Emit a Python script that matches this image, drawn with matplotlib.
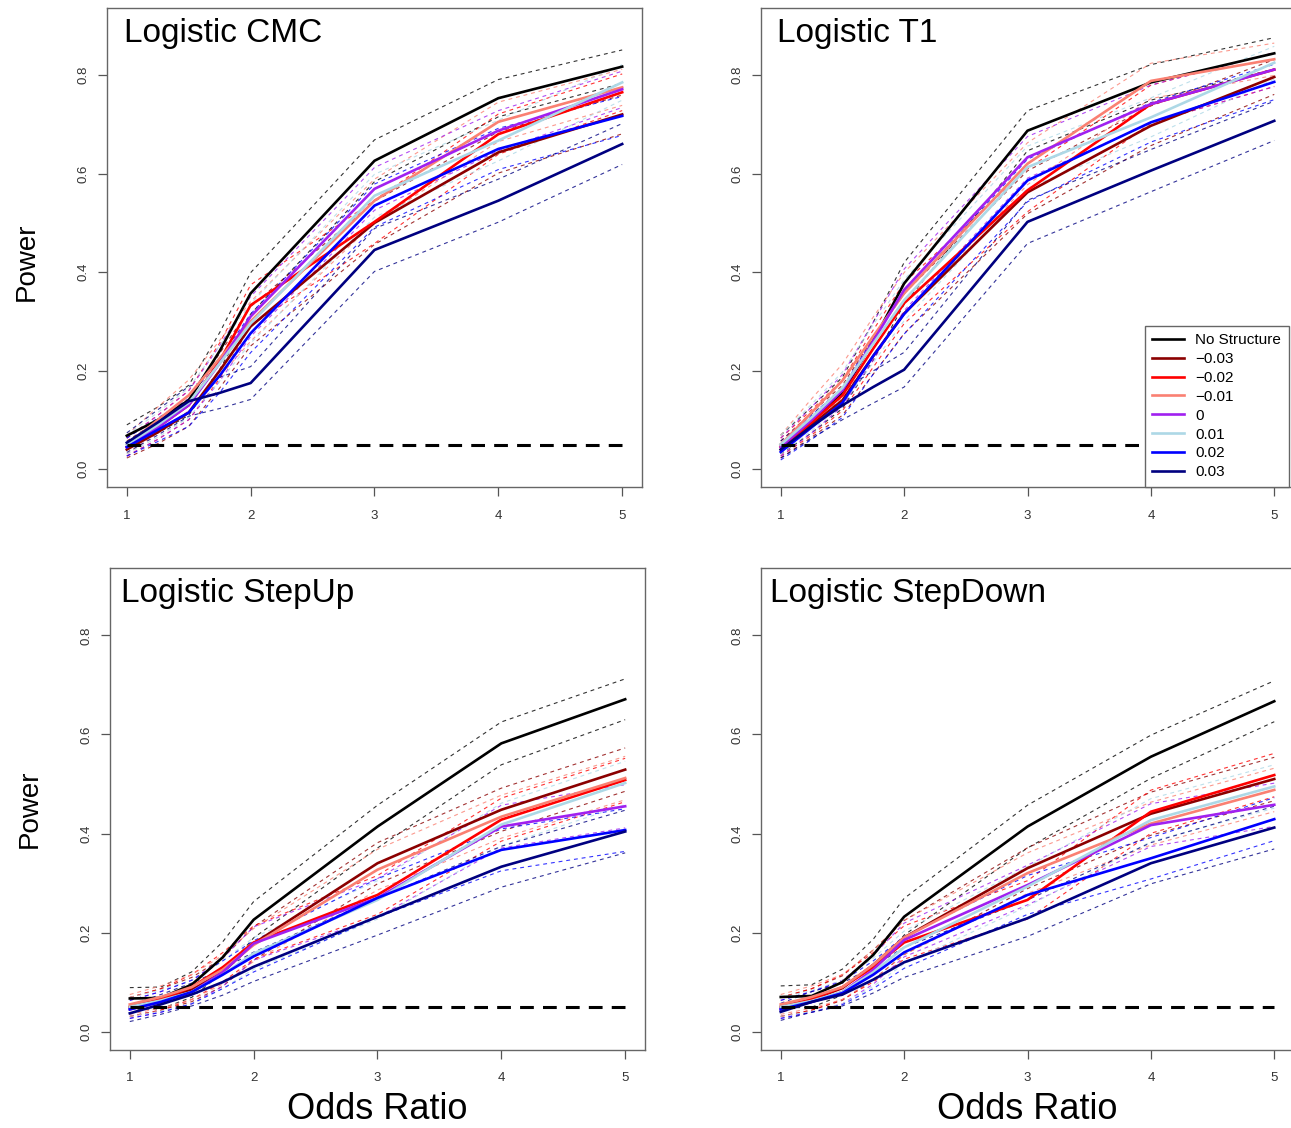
import matplotlib
matplotlib.use("Agg")
import numpy as np
import matplotlib.pyplot as plt

# odds ratios simulated and the structure settings
odds_ratio = [1, 1.25, 1.5, 1.75, 2, 3, 4, 5]
labels = ["No Structure", "\u22120.03", "\u22120.02", "\u22120.01", "0", "0.01", "0.02", "0.03"]
colors = ["black", "#8B0000", "#FF0000", "#FA8072", "#A020F0", "#ADD8E6", "#0000FF", "#000080"]
n_sims = 500
alpha_level = 0.05

# power, one row per structure setting (same order as labels)
cmc_power = [
    [0.068, 0.10, 0.14, 0.24, 0.357, 0.626, 0.753, 0.817],
    [0.040, 0.075, 0.115, 0.20, 0.290, 0.500, 0.643, 0.720],
    [0.045, 0.085, 0.130, 0.22, 0.333, 0.502, 0.680, 0.765],
    [0.050, 0.100, 0.150, 0.225, 0.300, 0.545, 0.705, 0.775],
    [0.045, 0.085, 0.130, 0.215, 0.310, 0.569, 0.687, 0.771],
    [0.050, 0.090, 0.135, 0.215, 0.296, 0.555, 0.667, 0.785],
    [0.045, 0.080, 0.115, 0.190, 0.276, 0.535, 0.650, 0.717],
    [0.054, 0.095, 0.138, 0.155, 0.175, 0.445, 0.545, 0.660],
]
t1_power = [
    [0.050, 0.100, 0.155, 0.260, 0.377, 0.687, 0.785, 0.844],
    [0.040, 0.090, 0.140, 0.230, 0.316, 0.562, 0.697, 0.796],
    [0.045, 0.095, 0.150, 0.245, 0.337, 0.566, 0.741, 0.811],
    [0.050, 0.115, 0.180, 0.270, 0.357, 0.620, 0.788, 0.832],
    [0.045, 0.100, 0.160, 0.260, 0.364, 0.633, 0.741, 0.811],
    [0.050, 0.105, 0.165, 0.255, 0.343, 0.613, 0.714, 0.825],
    [0.035, 0.085, 0.135, 0.230, 0.315, 0.586, 0.704, 0.786],
    [0.040, 0.087, 0.130, 0.167, 0.202, 0.502, 0.606, 0.707],
]
stepup_power = [
    [0.067, 0.068, 0.095, 0.150, 0.226, 0.414, 0.582, 0.671],
    [0.050, 0.065, 0.085, 0.120, 0.178, 0.340, 0.448, 0.529],
    [0.050, 0.065, 0.090, 0.130, 0.180, 0.276, 0.428, 0.508],
    [0.055, 0.070, 0.090, 0.125, 0.175, 0.327, 0.434, 0.512],
    [0.045, 0.060, 0.080, 0.120, 0.178, 0.270, 0.414, 0.455],
    [0.050, 0.063, 0.080, 0.115, 0.158, 0.266, 0.418, 0.502],
    [0.045, 0.060, 0.080, 0.115, 0.152, 0.270, 0.367, 0.407],
    [0.037, 0.055, 0.075, 0.100, 0.131, 0.232, 0.333, 0.404],
]
stepdown_power = [
    [0.070, 0.072, 0.100, 0.155, 0.232, 0.414, 0.555, 0.667],
    [0.050, 0.065, 0.088, 0.135, 0.190, 0.330, 0.440, 0.510],
    [0.050, 0.065, 0.090, 0.130, 0.180, 0.266, 0.444, 0.518],
    [0.055, 0.070, 0.090, 0.135, 0.190, 0.320, 0.420, 0.488],
    [0.045, 0.060, 0.080, 0.125, 0.185, 0.296, 0.417, 0.458],
    [0.050, 0.062, 0.080, 0.120, 0.170, 0.293, 0.427, 0.495],
    [0.045, 0.060, 0.078, 0.115, 0.160, 0.276, 0.350, 0.429],
    [0.040, 0.060, 0.075, 0.105, 0.140, 0.229, 0.340, 0.412],
]

panels = [
    ("Logistic CMC", cmc_power),
    ("Logistic T1", t1_power),
    ("Logistic StepUp", stepup_power),
    ("Logistic StepDown", stepdown_power),
]

plt.rcParams["font.family"] = ["Liberation Sans", "DejaVu Sans"]

W, H = 1291, 1128
fig = plt.figure(figsize=(W / 100, H / 100), dpi=100)

# pixel boxes: left, top, right, bottom
boxes = [(107, 8, 642, 487), (761, 8, 1294, 487),
         (110, 568, 645, 1049.5), (761, 568, 1294, 1049.5)]
title_dx = [17, 16, 11, 9]

for i, (title, power) in enumerate(panels):
    l, t, r, b = boxes[i]
    ax = fig.add_axes([l / W, 1 - b / H, (r - l) / W, (b - t) / H])
    for k in range(len(labels)):
        p = np.array(power[k])
        half = 1.96 * np.sqrt(p * (1 - p) / n_sims)
        ax.plot(odds_ratio, p, color=colors[k], lw=1.9, label=labels[k], zorder=3)
        for bound in (p - half, p + half):
            ax.plot(odds_ratio, bound, color=colors[k], lw=0.8, dashes=(3.5, 3.5),
                    alpha=0.8, zorder=2)
    ax.plot([odds_ratio[0], odds_ratio[-1]], [alpha_level, alpha_level], color="black",
            lw=2.2, dashes=(4.5, 3), zorder=4)

    ax.set_xlim(0.84, 5.16)
    ax.set_ylim(-0.036, 0.936)
    ax.set_xticks([1, 2, 3, 4, 5])
    ax.set_yticks([0.0, 0.2, 0.4, 0.6, 0.8])
    ax.set_yticklabels(["0.0", "0.2", "0.4", "0.6", "0.8"], rotation=90, va="center")
    ax.tick_params(direction="out", length=6.5, width=0.9, color="#555555",
                   labelsize=9.5, labelcolor="#333333")
    ax.tick_params(axis="x", pad=10)
    ax.tick_params(axis="y", pad=6)
    for s in ax.spines.values():
        s.set_color("#666666")
        s.set_linewidth(1)

    ax.text(title_dx[i] / (r - l), 1 - 33.7 / (b - t), title, transform=ax.transAxes,
            fontsize=24, va="baseline", ha="left")

    if i % 2 == 0:
        ax.text(-80 / (r - l), 0.47 if i == 0 else 0.5, "Power", transform=ax.transAxes,
                rotation=90, ha="center", va="center", fontsize=20)
    if i >= 2:
        ax.text(0.5, -60 / (b - t), "Odds Ratio", transform=ax.transAxes,
                ha="center", va="center", fontsize=26)

    if i == 1:
        leg = ax.legend(loc="lower right", bbox_to_anchor=(0.9906, 0), borderaxespad=0,
                        fontsize=11, handlelength=2.1, handletextpad=0.72,
                        labelspacing=0.32, borderpad=0.5, fancybox=False,
                        framealpha=1, edgecolor="#666666")
        leg.get_frame().set_linewidth(1)
        leg.set_zorder(10)

fig.savefig("out.png", dpi=100)
